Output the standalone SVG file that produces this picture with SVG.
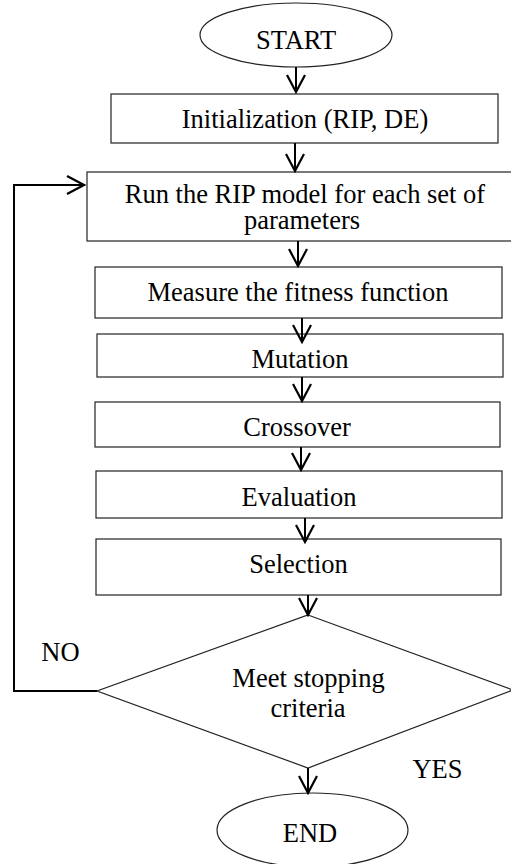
<svg xmlns="http://www.w3.org/2000/svg" width="511" height="864" viewBox="0 0 511 864">
<style>
.box{fill:#fff;stroke:#222;stroke-width:1.2}
.t{font-family:'Liberation Serif','DejaVu Serif',serif;font-size:26.5px;fill:#000;text-anchor:middle}
.c{fill:none;stroke:#000;stroke-width:2}
</style>
<defs>
<marker id="ah" markerWidth="20" markerHeight="24" refX="18" refY="10" orient="auto" markerUnits="userSpaceOnUse" viewBox="0 0 20 24">
<path d="M1,1 L18,10 L1,19" fill="none" stroke="#000" stroke-width="2.2"/>
</marker>
</defs>
<rect width="511" height="864" fill="#fff"/>
<g id="start"><ellipse class="box" cx="296" cy="35" rx="96" ry="32"/><text class="t" font-family="Liberation Serif, serif" x="296" y="49">START</text></g>
<g id="init"><rect class="box" x="111" y="94" width="387" height="49"/><text class="t" font-family="Liberation Serif, serif" x="305" y="128">Initialization (RIP, DE)</text></g>
<g id="run"><rect class="box" x="87" y="172" width="437" height="69"/><text class="t" font-family="Liberation Serif, serif" x="305" y="203">Run the RIP model for each set of</text><text class="t" font-family="Liberation Serif, serif" x="302" y="229">parameters</text></g>
<g id="measure"><rect class="box" x="95" y="267" width="407" height="51"/><text class="t" font-family="Liberation Serif, serif" x="298" y="301">Measure the fitness function</text></g>
<g id="mutation"><rect class="box" x="97" y="334" width="406" height="43"/><text class="t" font-family="Liberation Serif, serif" x="300" y="368">Mutation</text></g>
<g id="crossover"><rect class="box" x="95" y="402" width="405" height="45"/><text class="t" font-family="Liberation Serif, serif" x="297" y="436">Crossover</text></g>
<g id="evaluation"><rect class="box" x="96" y="471" width="406" height="47"/><text class="t" font-family="Liberation Serif, serif" x="299" y="506">Evaluation</text></g>
<g id="selection"><rect class="box" x="96" y="539" width="405" height="56"/><text class="t" font-family="Liberation Serif, serif" x="298.5" y="573">Selection</text></g>
<g id="decision"><polygon class="box" points="308,615 513,690 308,768 97,691"/><text class="t" font-family="Liberation Serif, serif" x="308.5" y="687">Meet stopping</text><text class="t" font-family="Liberation Serif, serif" x="308" y="717">criteria</text></g>
<g id="end"><ellipse class="box" cx="312.5" cy="830" rx="95.5" ry="37"/><text class="t" font-family="Liberation Serif, serif" x="310" y="842">END</text></g>
<g id="connectors">
<line class="c" x1="296" y1="67" x2="296" y2="92" marker-end="url(#ah)"/>
<line class="c" x1="295" y1="143" x2="295" y2="171" marker-end="url(#ah)"/>
<line class="c" x1="298" y1="241" x2="298" y2="266" marker-end="url(#ah)"/>
<line class="c" x1="302" y1="318" x2="302" y2="342" marker-end="url(#ah)"/>
<line class="c" x1="302" y1="377" x2="302" y2="401" marker-end="url(#ah)"/>
<line class="c" x1="301" y1="447" x2="301" y2="470" marker-end="url(#ah)"/>
<line class="c" x1="305" y1="518" x2="305" y2="542" marker-end="url(#ah)"/>
<line class="c" x1="308" y1="595" x2="308" y2="615" marker-end="url(#ah)"/>
<line class="c" x1="308" y1="768" x2="308" y2="793" marker-end="url(#ah)"/>
<polyline class="c" points="97,691 14,691 14,185 84,185" marker-end="url(#ah)"/>
<text class="t" font-family="Liberation Serif, serif" x="60.5" y="661">NO</text>
<text class="t" font-family="Liberation Serif, serif" x="437.5" y="778">YES</text>
</g>
</svg>
